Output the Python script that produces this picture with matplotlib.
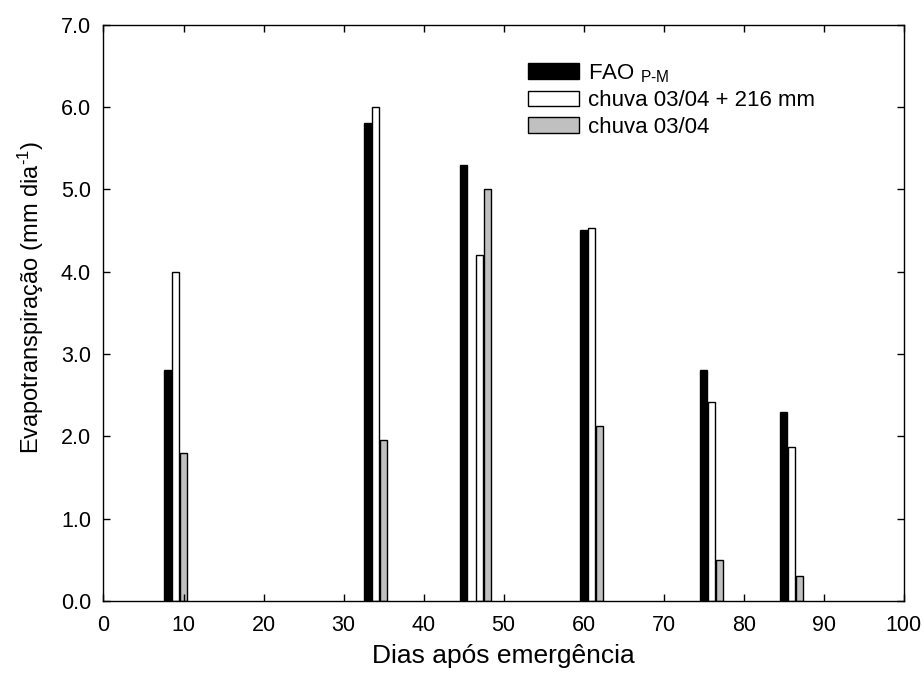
import matplotlib.pyplot as plt
from matplotlib.ticker import MultipleLocator, FormatStrFormatter

plt.rcParams['font.family'] = ['Liberation Sans', 'DejaVu Sans']
plt.rcParams['mathtext.fontset'] = 'custom'
plt.rcParams['mathtext.rm'] = 'Liberation Sans'
plt.rcParams['mathtext.it'] = 'Liberation Sans'

# days after emergence for each series
dias_fao = [8, 33, 45, 60, 75, 85]
dias_216 = [9, 34, 47, 61, 76, 86]
dias_chuva = [10, 35, 48, 62, 77, 87]

et_fao = [2.8, 5.8, 5.3, 4.5, 2.8, 2.3]
et_216 = [4.0, 6.0, 4.2, 4.53, 2.42, 1.87]
et_chuva = [1.8, 1.95, 5.0, 2.13, 0.5, 0.3]

labels = ['FAO $_{\\mathrm{P}\\text{-}\\mathrm{M}}$', 'chuva 03/04 + 216 mm', 'chuva 03/04']

fig = plt.figure(figsize=(9.24, 6.86), dpi=100)
ax = fig.add_axes([0.112, 0.124, 0.866, 0.84])

w = 0.9
ax.bar(dias_fao, et_fao, width=w, color='black', edgecolor='black', linewidth=1.0, label=labels[0])
ax.bar(dias_216, et_216, width=w, color='white', edgecolor='black', linewidth=1.0, label=labels[1])
ax.bar(dias_chuva, et_chuva, width=w, color='#c0c0c0', edgecolor='black', linewidth=1.0, label=labels[2])

ax.set_xlim(0, 100)
ax.set_ylim(0, 7)
ax.xaxis.set_major_locator(MultipleLocator(10))
ax.yaxis.set_major_locator(MultipleLocator(1))
ax.yaxis.set_major_formatter(FormatStrFormatter('%.1f'))
ax.tick_params(direction='in', top=True, right=True, length=5, width=1, labelsize=15.5)
ax.tick_params(axis='x', pad=10)
ax.tick_params(axis='y', pad=9)
for s in ax.spines.values():
    s.set_linewidth(1)

ax.set_xlabel('Dias após emergência', fontsize=19)
ax.set_ylabel('Evapotranspiração (mm dia$^{\\text{-1}}$)', fontsize=17)
ax.xaxis.set_label_coords(0.5, -0.074)
ax.yaxis.set_label_coords(-0.072, 0.527)

ax.legend(loc='upper left', bbox_to_anchor=(0.505, 0.97), frameon=False, fontsize=16,
          handlelength=2.3, handleheight=0.7, labelspacing=0.25, handletextpad=0.4)

plt.savefig('out.png', dpi=100)
